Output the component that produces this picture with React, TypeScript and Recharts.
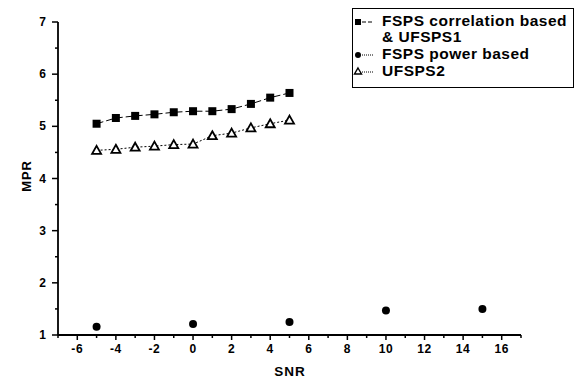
import React from 'react';
import { ComposedChart, Scatter, XAxis, YAxis } from 'recharts';

const corrX = [-5, -4, -3, -2, -1, 0, 1, 2, 3, 4, 5];
const corrY = [5.05, 5.16, 5.2, 5.23, 5.27, 5.29, 5.29, 5.33, 5.43, 5.55, 5.64];
const ufsps2Y = [4.54, 4.56, 4.6, 4.62, 4.65, 4.66, 4.82, 4.87, 4.97, 5.05, 5.12];
const powerX = [-5, 0, 5, 10, 15];
const powerY = [1.16, 1.21, 1.25, 1.47, 1.5];

const xTicks = [-7, -6, -5, -4, -3, -2, -1, 0, 1, 2, 3, 4, 5, 6, 7, 8, 9, 10, 11, 12, 13, 14, 15, 16, 17];
const yTicks = [1, 1.5, 2, 2.5, 3, 3.5, 4, 4.5, 5, 5.5, 6, 6.5, 7];

const corrData = corrX.map((x, i) => ({ x, y: corrY[i] }));
const ufsps2Data = corrX.map((x, i) => ({ x, y: ufsps2Y[i] }));
const powerData = powerX.map((x, i) => ({ x, y: powerY[i] }));

const FONT = '"Liberation Sans", Arial, sans-serif';

const Square = (p: any) => <rect x={p.cx - 4} y={p.cy - 4} width={8} height={8} fill="#000" />;
const Dot = (p: any) => <circle cx={p.cx} cy={p.cy} r={4} fill="#000" />;
const Tri = (p: any) => (
  <polygon
    points={`${p.cx},${p.cy - 4.5} ${p.cx + 4.5},${p.cy + 3.5} ${p.cx - 4.5},${p.cy + 3.5}`}
    fill="#fff"
    stroke="#000"
    strokeWidth={1.8}
  />
);

const XTick = (p: any) => {
  const v = p.payload.value;
  const major = v % 2 === 0;
  return (
    <g>
      <line x1={p.x} x2={p.x} y1={p.y} y2={p.y + (major ? 5 : 3)} stroke="#000" strokeWidth={1.5} />
      {major && v !== 17 && (
        <text x={p.x} y={p.y + 18} textAnchor="middle" fontFamily={FONT} fontWeight="bold" fontSize={12} letterSpacing={0.6} fill="#000">
          {v}
        </text>
      )}
    </g>
  );
};

const YTick = (p: any) => {
  const v = p.payload.value;
  const major = Number.isInteger(v);
  return (
    <g>
      <line x1={p.x} x2={p.x - (major ? 6 : 3)} y1={p.y} y2={p.y} stroke="#000" strokeWidth={1.5} />
      {major && (
        <text x={p.x - 12} y={p.y + 4} textAnchor="end" fontFamily={FONT} fontWeight="bold" fontSize={12} fill="#000">
          {v}
        </text>
      )}
    </g>
  );
};

const LegendBox = () => {
  const txt: React.CSSProperties = {
    position: 'absolute',
    left: 29,
    fontFamily: FONT,
    fontWeight: 'bold',
    fontSize: 15.5,
    letterSpacing: 0.5,
    lineHeight: '16px',
    whiteSpace: 'nowrap',
  };
  return (
    <div
      style={{
        position: 'absolute',
        left: 352,
        top: 8,
        width: 222,
        height: 80,
        border: '1.5px solid #000',
        background: '#fff',
        boxSizing: 'border-box',
      }}
    >
      <svg width={30} height={80} style={{ position: 'absolute', left: 0, top: 0 }}>
        <rect x={2} y={10} width={6} height={6} fill="#000" />
        <line x1={9} x2={20} y1={13} y2={13} stroke="#000" strokeWidth={1} strokeDasharray="4 2" />
        <circle cx={5} cy={46} r={3} fill="#000" />
        <line x1={9} x2={20} y1={46} y2={46} stroke="#000" strokeWidth={1} strokeDasharray="1 1" />
        <polygon points="5,59 8.5,65 1.5,65" fill="#fff" stroke="#000" strokeWidth={1.4} />
        <line x1={9} x2={20} y1={63} y2={63} stroke="#000" strokeWidth={1} strokeDasharray="1 1" />
      </svg>
      <div style={{ ...txt, top: 4 }}>FSPS correlation based</div>
      <div style={{ ...txt, top: 20 }}>&amp; UFSPS1</div>
      <div style={{ ...txt, top: 37 }}>FSPS power based</div>
      <div style={{ ...txt, top: 54 }}>UFSPS2</div>
    </div>
  );
};

export default function App() {
  return (
    <div style={{ position: 'absolute', left: 0, top: 0, width: 575, height: 378, background: '#fff' }}>
      <ComposedChart width={575} height={378} margin={{ top: 22, right: 54, left: 0, bottom: 0 }}>
        <XAxis
          type="number"
          dataKey="x"
          domain={[-7, 17]}
          ticks={xTicks}
          interval={0}
          tickLine={false}
          tickSize={0}
          tickMargin={0}
          height={43}
          tick={XTick}
          axisLine={{ stroke: '#000', strokeWidth: 1.8 }}
          allowDataOverflow
        />
        <YAxis
          type="number"
          dataKey="y"
          domain={[1, 7]}
          ticks={yTicks}
          interval={0}
          tickLine={false}
          tickSize={0}
          tickMargin={0}
          width={58}
          tick={YTick}
          axisLine={{ stroke: '#000', strokeWidth: 1.8 }}
          allowDataOverflow
        />
        <Scatter
          name="FSPS correlation based & UFSPS1"
          data={corrData}
          line={{ stroke: '#000', strokeWidth: 1, strokeDasharray: '7 3' }}
          shape={Square}
          isAnimationActive={false}
        />
        <Scatter
          name="UFSPS2"
          data={ufsps2Data}
          line={{ stroke: '#000', strokeWidth: 1, strokeDasharray: '2 2' }}
          shape={Tri}
          isAnimationActive={false}
        />
        <Scatter name="FSPS power based" data={powerData} shape={Dot} isAnimationActive={false} />
        <text x={31} y={176} transform="rotate(-90 31 176)" textAnchor="middle" fontFamily={FONT} fontWeight="bold" fontSize={13} letterSpacing={0.8} fill="#000">
          MPR
        </text>
        <text x={290} y={376} textAnchor="middle" fontFamily={FONT} fontWeight="bold" fontSize={13.5} letterSpacing={1} fill="#000">
          SNR
        </text>
      </ComposedChart>
      <LegendBox />
    </div>
  );
}
